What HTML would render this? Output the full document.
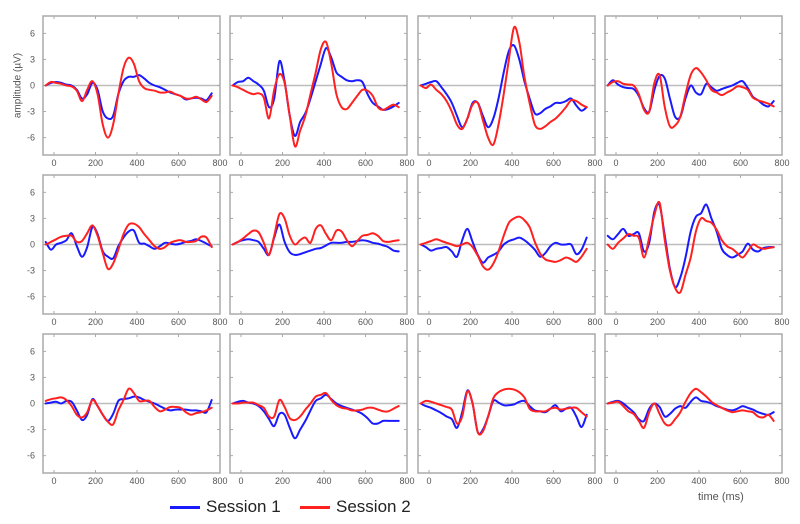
<!DOCTYPE html>
<html><head><meta charset="utf-8"><style>
html,body{margin:0;padding:0;background:#fff;}
svg{display:block;font-family:"Liberation Sans",sans-serif;}
</style></head><body>
<svg id="chart" width="800" height="524" viewBox="0 0 800 524"></svg>
<script>
const times=[-40,-15,10,35,60,85,110,135,160,185,210,235,260,285,310,335,360,385,410,435,460,485,510,535,560,585,610,635,660,685,710,735,760];
const xTicks=[0,200,400,600,800];
const yTicks=[6,3,0,-3,-6];
const s1_r1c1=[0,0.3,0.4,0.3,0.1,0,-0.5,-1.5,-1.0,0.3,-0.5,-3,-3.8,-3.5,-1,0.5,1,1,1.2,0.8,0.3,0,-0.2,-0.5,-0.8,-1,-1.2,-1.6,-1.5,-1.4,-1.5,-1.7,-0.9];
const s2_r1c1=[0,0.4,0.3,0.2,0,-0.1,-0.6,-1.8,-0.5,0.5,-1,-4.5,-6,-4.5,-1,2,3.2,2.5,0.5,-0.3,-0.5,-0.6,-0.8,-0.8,-0.7,-1,-1.2,-1.5,-1.5,-1.3,-1.6,-1.9,-1.2];
const s1_r1c2=[0,0.4,0.5,0.9,0.5,0.1,-0.6,-2.5,-1.5,2.8,0.5,-3.5,-5.8,-4.2,-3.2,-1.5,0.5,2.5,4.3,3.2,1.5,1,0.6,0.5,0.6,0.4,-1,-2,-2.4,-2.8,-2.7,-2.4,-2];
const s2_r1c2=[0,-0.2,-0.5,-0.8,-1,-0.9,-1.4,-3.8,-0.5,1.3,0.3,-3.5,-7,-5.2,-3.5,-1,1.5,4.2,5.0,2.5,-1,-2.5,-2.7,-2,-1.2,-0.5,-0.6,-1.2,-2.5,-2.8,-2.5,-2.2,-2.5];
const s1_r1c3=[0,0.2,0.4,0.5,-0.2,-1,-2,-3.5,-4.8,-3.8,-2,-2,-3.5,-4.8,-3.8,-1.5,1.5,4,4.6,3,0.5,-1.5,-3.2,-3.2,-2.7,-2.4,-2,-2,-1.8,-1.5,-2.3,-2.9,-2.5];
const s2_r1c3=[0,-0.3,0.1,-0.5,-1,-1.8,-3,-4.5,-5,-3.8,-2.2,-2,-4,-6,-6.8,-4.5,-1,3,6.7,5,1,-2,-4.5,-5,-4.7,-4.2,-3.8,-3.2,-2.5,-1.7,-1.8,-2.2,-2.5];
const s1_r1c4=[0,0.6,0.1,-0.2,-0.3,-0.4,-1.2,-2.6,-3,-0.5,1.1,0.8,-1.5,-3.6,-3.6,-1.5,0,-0.8,-1,0.2,-0.2,-0.6,-0.4,-0.2,0,0.3,0.5,-0.3,-1.3,-1.7,-2.2,-2.4,-1.8];
const s2_r1c4=[0,0.4,0.5,0.2,0.1,0,-1,-2.8,-3,0.3,1.2,-2.5,-4.7,-4.6,-3.6,-1,1.2,2,1.5,0.6,-0.5,-0.8,-1.1,-0.8,-0.5,-0.1,-0.2,-0.5,-1.4,-1.7,-1.9,-2.1,-2.4];
const s1_r2c1=[0.3,-0.6,0,0.2,0.5,1.3,-0.2,-1.4,-0.3,2,1.2,-0.8,-1.4,-1.6,-0.2,0.8,1.5,1.6,0.2,0.1,-0.2,-0.5,-0.2,0.2,0.1,0,0.1,0.3,0.4,0.6,0.4,0.1,-0.2];
const s2_r2c1=[0,0.3,0.6,0.9,1,1,0.3,0.4,1.3,2.2,1,-1,-2.8,-2.2,-0.6,1.2,2.3,2.4,2,1.2,0.5,-0.2,-0.5,-0.3,0.2,0.4,0.5,0.3,0.3,0.4,0.9,0.8,-0.3];
const s1_r2c2=[0,0.3,0.5,0.6,0.5,0.3,-0.5,-1.2,0.8,2.3,0.3,-0.9,-1.2,-1.1,-0.9,-0.7,-0.5,-0.4,-0.1,0.2,0.2,0.2,0.3,0.3,0.4,0.5,0.4,0.2,0.1,-0.1,-0.3,-0.7,-0.8];
const s2_r2c2=[0,0.3,0.7,1.2,1.6,1.4,0.2,-1.2,1,3.5,3,1,0,0.5,0.8,0.2,1.8,2.2,1.2,0.5,1.6,1.5,0.5,-0.2,0.4,1,1.1,1.3,1,0.4,0.3,0.4,0.5];
const s1_r2c3=[0,-0.3,-0.7,-0.5,-0.4,-0.3,-0.8,-1.4,0.5,1.8,0.3,-1.2,-2.1,-1.5,-1.2,-0.8,0,0.4,0.6,0.8,0.5,0,-0.6,-1.4,-1,-0.2,0.2,0,0,0,-1.1,-0.6,0.8];
const s2_r2c3=[0,0.2,0.4,0.6,0.4,0.2,0,-0.2,0,0.2,-0.3,-1.3,-2.5,-2.9,-2.2,-0.8,1,2.5,3,3.2,2.8,2,0.3,-1,-1.7,-1.9,-2,-1.8,-1.5,-1.7,-2,-1.4,-0.5];
const s1_r2c4=[1,0.6,1.2,1.8,1,1.2,1.3,-0.8,0.2,3.8,4.5,1,-2.8,-4.9,-3.8,-1.5,1.5,3.2,3.6,4.6,3,1.5,-0.5,-1.2,-1.5,-1.2,-0.8,0.1,-0.6,-0.8,-0.4,-0.3,-0.3];
const s2_r2c4=[0,-0.5,0.2,0.7,1.2,1,0.8,-1.5,0.8,3.4,4.8,0.5,-3,-5,-5.5,-3.5,-1.5,1.5,3,2.7,2.5,1.7,0.5,-0.2,-0.5,-1,-1.5,-0.8,0,-0.3,-0.5,-0.4,-0.3];
const s1_r3c1=[0,0.1,0.2,0,0.3,0.2,-0.8,-1.9,-1.3,0.5,-0.3,-1.3,-2,-1.2,0.3,0.5,0.6,0.8,0.7,0.4,0.2,0,-0.3,-0.6,-0.8,-0.7,-0.7,-0.7,-0.8,-0.8,-0.9,-1,0.4];
const s2_r3c1=[0.3,0.5,0.6,0.7,0.4,-0.3,-1.3,-1.6,-1,0.4,-0.3,-1.3,-2.1,-2.4,-0.8,0.4,1.7,1.2,0.3,0.3,0.3,-0.4,-0.9,-0.7,-0.4,-0.4,-0.5,-1,-1.3,-1.1,-1,-0.8,-0.5];
const s1_r3c2=[0,0.2,0.3,0.1,0,-0.3,-0.9,-1.8,-2.6,-1.2,-1.3,-2.8,-4,-3,-2,-0.8,0.3,0.6,1,0.5,0,-0.3,-0.5,-0.7,-0.9,-1.2,-1.7,-2.3,-2.3,-2,-2,-2,-2];
const s2_r3c2=[0,0,0.1,0.1,0.1,-0.2,-0.5,-1.5,-1.5,0.4,-0.4,-1.7,-1.9,-1.5,-0.7,0,0.8,1,1.2,0.4,-0.2,-0.5,-0.6,-0.8,-0.8,-0.7,-0.5,-0.5,-0.7,-0.9,-0.9,-0.6,-0.3];
const s1_r3c3=[0,-0.3,-0.5,-0.8,-1.1,-1.5,-1.8,-2.8,-1,1.5,0,-3.3,-3,-1.5,0.3,0.1,-0.2,-0.2,-0.1,0.2,0.3,-0.3,-0.8,-0.9,-1,-0.6,-0.2,-0.9,-0.6,-0.5,-1.5,-2.7,-1.3];
const s2_r3c3=[0,0.3,0.2,0,-0.2,-0.4,-0.7,-2.3,-1.5,1.4,0,-3.3,-3.2,-1.5,0.6,1.3,1.6,1.7,1.6,1.3,0.7,-0.6,-0.9,-0.9,-0.9,-0.6,-0.5,-0.7,-0.6,-0.5,-0.5,-1,-1.5];
const s1_r3c4=[0,0.2,0.3,0,-0.5,-1,-1.8,-2,-0.6,0,-0.4,-1.5,-1.2,-0.6,-0.3,-0.5,0.2,0.7,0.3,0.2,0,-0.3,-0.5,-0.7,-0.8,-0.6,-0.3,-0.5,-0.7,-1,-1.2,-1.3,-1];
const s2_r3c4=[0,0.1,0.2,-0.3,-0.9,-1.2,-2,-2.8,-1,0,-1.2,-2.3,-2.5,-1.8,-1,0.2,1.2,1.7,1.3,0.8,0.2,-0.2,-0.5,-0.8,-1,-0.9,-0.8,-0.9,-1,-1.5,-1.6,-1.3,-2];

const session1=[[s1_r1c1,s1_r1c2,s1_r1c3,s1_r1c4],[s1_r2c1,s1_r2c2,s1_r2c3,s1_r2c4],[s1_r3c1,s1_r3c2,s1_r3c3,s1_r3c4]];
const session2=[[s2_r1c1,s2_r1c2,s2_r1c3,s2_r1c4],[s2_r2c1,s2_r2c2,s2_r2c3,s2_r2c4],[s2_r3c1,s2_r3c2,s2_r3c3,s2_r3c4]];

const NS='http://www.w3.org/2000/svg';
const svg=document.getElementById('chart');
const colLeft=[43,230,418,605], rowTop=[16,175,334];
const PW=177, PH=139, TMIN=-53, TMAX=800, YMIN=-8, YMAX=8;
function mk(tag,attrs,parent){const e=document.createElementNS(NS,tag);for(const k in attrs)e.setAttribute(k,attrs[k]);(parent||svg).appendChild(e);return e;}
function smoothPath(p){
  let d='M'+p[0][0].toFixed(1)+','+p[0][1].toFixed(1);
  for(let i=0;i<p.length-1;i++){
    const p0=p[Math.max(0,i-1)],p1=p[i],p2=p[i+1],p3=p[Math.min(p.length-1,i+2)];
    const c1x=p1[0]+(p2[0]-p0[0])/6,c1y=p1[1]+(p2[1]-p0[1])/6;
    const c2x=p2[0]-(p3[0]-p1[0])/6,c2y=p2[1]-(p3[1]-p1[1])/6;
    d+=' C'+c1x.toFixed(1)+','+c1y.toFixed(1)+' '+c2x.toFixed(1)+','+c2y.toFixed(1)+' '+p2[0].toFixed(1)+','+p2[1].toFixed(1);
  }
  return d;
}
for(let r=0;r<3;r++){for(let c=0;c<4;c++){
  const L=colLeft[c],T=rowTop[r];
  const xs=t=>L+(t-TMIN)/(TMAX-TMIN)*PW;
  const ys=v=>T+(YMAX-v)/(YMAX-YMIN)*PH;
  const g=mk('g',{});
  
  
  const zl=mk('line',{x1:L,x2:L+PW,y1:ys(0),y2:ys(0),stroke:'#bdbdbd','stroke-width':1.5},g);
  
  
  xTicks.forEach(t=>{
    const x=xs(t);
    mk('line',{x1:x,x2:x,y1:T,y2:T+3,stroke:'#aaa'},g);
    mk('line',{x1:x,x2:x,y1:T+PH,y2:T+PH-3,stroke:'#aaa'},g);
    const tx=mk('text',{x:x,y:T+PH+11,'font-size':9,fill:'#555','text-anchor':'middle'},g);
    tx.textContent=t;
    
    
  });
  yTicks.forEach(v=>{
    const y=ys(v);
    mk('line',{x1:L,x2:L+3,y1:y,y2:y,stroke:'#aaa'},g);
    mk('line',{x1:L+PW,x2:L+PW-3,y1:y,y2:y,stroke:'#aaa'},g);
    if(c===0){
      const tx=mk('text',{x:L-8,y:y+3,'font-size':9,fill:'#555','text-anchor':'end'},g);
      tx.textContent=v;
      
      
    }
  });
  [[session1,'#1a1aff','session1-line'],[session2,'#ff2020','session2-line']].forEach(([data,col,nm])=>{
    const vals=data[r][c];
    const pts=vals.map((v,i)=>[xs(times[i]),ys(v)]);
    const pl=mk('path',{d:smoothPath(pts),fill:'none',stroke:col,'stroke-width':2,'stroke-linejoin':'round','stroke-linecap':'round'},g);
    
    
  });
  const fr=mk('rect',{x:L,y:T,width:PW,height:PH,fill:'none',stroke:'#aaa','stroke-width':1.5},g);
  
  
}}
</script>
<div style="position:absolute;left:0;top:0;width:800px;height:524px;pointer-events:none;">
<div style="position:absolute;left:-32px;top:80px;width:100px;text-align:center;transform:rotate(-90deg);font:10px 'Liberation Sans',sans-serif;color:#555;">amplitude (µV)</div>
<div style="position:absolute;left:698px;top:491px;font:11px 'Liberation Sans',sans-serif;color:#555;">time (ms)</div>
<div style="position:absolute;left:170px;top:497px;font:17px 'Liberation Sans',sans-serif;color:#222;white-space:nowrap;"><span style="display:inline-block;width:30px;height:3px;background:#1a1aff;vertical-align:middle;margin-right:6px;"></span>Session 1</div>
<div style="position:absolute;left:300px;top:497px;font:17px 'Liberation Sans',sans-serif;color:#222;white-space:nowrap;"><span style="display:inline-block;width:30px;height:3px;background:#ff2020;vertical-align:middle;margin-right:6px;"></span>Session 2</div>
</div>
</body></html>
